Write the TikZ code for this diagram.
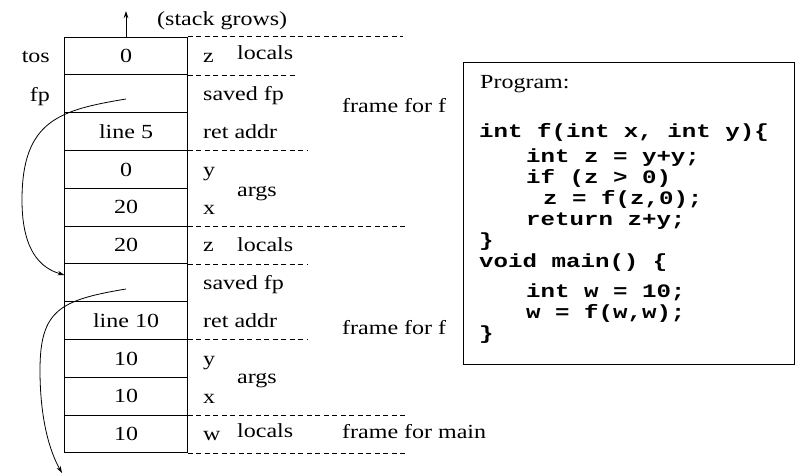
\documentclass[tikz,border=0pt]{standalone}
\usepackage{fontspec}
\setmainfont{Liberation Serif}[FakeStretch=1.2]
\newfontfamily\codefont{Liberation Mono}[FakeStretch=1.27]
\usetikzlibrary{arrows.meta}
\begin{document}
\begin{tikzpicture}[x=1pt,y=-1pt,
  txt/.style={font=\fontsize{20}{24}\selectfont, inner sep=0pt},
  cell/.style={draw=black, line width=0.9pt, minimum width=123pt, minimum height=37.8pt,
    inner sep=0pt, txt, text height=13.6pt, text depth=0pt},
  lab/.style={txt, anchor=base west},
  rlab/.style={txt, anchor=base east},
  codeln/.style={font=\fontsize{19}{23}\selectfont\codefont\bfseries, inner sep=0pt, anchor=base west},
  dsh/.style={dash pattern=on 5pt off 3.5pt, line width=0.8pt},
  arr/.style={-{Stealth[length=7pt,width=4.5pt]}, line width=0.8pt}]
\useasboundingbox (0,0) rectangle (796,474);

% stack cells
\node[cell] (c1)  at (126,55.9)  {0};
\node[cell] (c2)  at (126,93.7)  {};
\node[cell] (c3)  at (126,131.5) {line 5};
\node[cell] (c4)  at (126,169.3) {0};
\node[cell] (c5)  at (126,207.1) {20};
\node[cell] (c6)  at (126,244.9) {20};
\node[cell] (c7)  at (126,282.7) {};
\node[cell] (c8)  at (126,320.5) {line 10};
\node[cell] (c9)  at (126,358.3) {10};
\node[cell] (c10) at (126,396.1) {10};
\node[cell] (c11) at (126,433.9) {10};

% dashed separators
\draw[dsh] (c1.north east) -- ++(215.5,0);
\draw[dsh] (c1.south east) -- ++(107.5,0);
\draw[dsh] (c3.south east) -- ++(119.5,0);
\draw[dsh] (c5.south east) -- ++(217.5,0);
\draw[dsh] (c6.south east) -- ++(119.5,0);
\draw[dsh] (c8.south east) -- ++(119.5,0);
\draw[dsh] (c10.south east) -- ++(217.5,0);
\draw[dsh] (c11.south east) -- ++(217.5,0);

% right-side labels
\node[lab] (lz1) at (203,62.9) {z};
\node[lab] (ll1) at (237,59) {locals};
\node[lab] (lsf1) at (203,100.7) {saved fp};
\node[lab] (lra1) at (203,138.5) {ret addr};
\node[lab] (ly1) at (203,176.3) {y};
\node[lab] (lx1) at (203,214.1) {x};
\node[lab] (la1) at (237,196) {args};
\node[lab] (lz2) at (203,251.9) {z};
\node[lab] (ll2) at (237,251.9) {locals};
\node[lab] (lsf2) at (203,289.7) {saved fp};
\node[lab] (lra2) at (203,327.5) {ret addr};
\node[lab] (ly2) at (203,365.3) {y};
\node[lab] (lx2) at (203,403.1) {x};
\node[lab] (la2) at (237,383) {args};
\node[lab] (lw) at (203,440.9) {w};
\node[lab] (ll3) at (237,437) {locals};

\node[lab] (ff1) at (342,112) {frame for f};
\node[lab] (ff2) at (342,334) {frame for f};
\node[lab] (ffm) at (342,438) {frame for main};

% left labels
\node[rlab] (tos) at (50,62) {tos};
\node[rlab] (fp) at (50,101) {fp};

% stack grows
\coordinate (top) at (126,11);
\draw[arr] (c1.north) -- (top);
\node[lab] (grow) at (157,25) {(stack grows)};

% frame pointer chain
\coordinate (s1) at (126,99);
\coordinate (e1) at (64.5,275);
\draw[arr] (s1) .. controls (60,110) and (22,120) .. (22,200)
                .. controls (22,250) and (40,268) .. (e1);
\coordinate (s2) at (126,289);
\coordinate (e2) at (62,473);
\draw[arr] (s2) .. controls (60,300) and (40,310) .. (40,370)
                .. controls (40,420) and (50,452) .. (e2);

% program box
\node[draw, line width=0.9pt, minimum width=331pt, minimum height=302pt, inner sep=0pt,
      anchor=north west] (prog) at (463,62) {};
\node[lab] (ptitle) at (480,88) {Program:};
\node[codeln] (k1)  at (479,137) {int f(int x, int y)\{};
\node[codeln] (k2)  at (526,162) {int z = y+y;};
\node[codeln] (k3)  at (526,183) {if (z > 0)};
\node[codeln] (k4)  at (543,204) {z = f(z,0);};
\node[codeln] (k5)  at (526,225) {return z+y;};
\node[codeln] (k6)  at (479,246) {\}};
\node[codeln] (k7)  at (479,267) {void main() \{};
\node[codeln] (k8)  at (526,297) {int w = 10;};
\node[codeln] (k9)  at (526,318) {w = f(w,w);};
\node[codeln] (k10) at (479,339) {\}};
\end{tikzpicture}
\end{document}
